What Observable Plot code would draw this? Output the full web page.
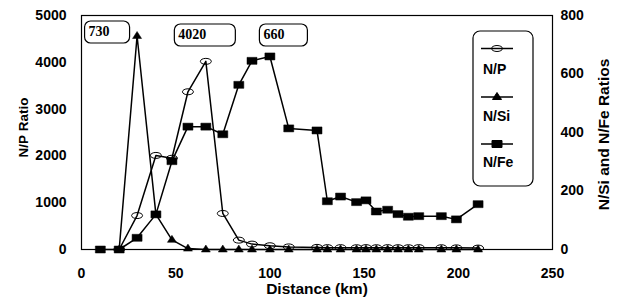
<!DOCTYPE html>
<html>
<head>
<meta charset="utf-8">
<script src="https://cdn.jsdelivr.net/npm/d3@7"></script>
<script src="https://cdn.jsdelivr.net/npm/@observablehq/plot@0.6"></script>
<style>
  html, body { margin: 0; padding: 0; background: white; }
</style>
</head>
<body>
<div id="chart"></div>
<script>
// ---- data ----
const distance = [10, 20, 29.5, 39.5, 48, 56.5, 66, 75, 83.5, 90.5, 100, 110, 125, 130.5, 137.5, 146, 151, 156.5, 162.5, 168, 173.5, 179, 191, 199, 210.5];
const npRatio  = [null, 0, 725, 2010, 1950, 3370, 4020, 770, 200, 115, 80, 55, 45, 40, 40, 38, 40, 38, 40, 38, 38, 40, 38, 35, 30];
const nsiRatio = [null, 0, 730, 120, 33, 3, 0, 0, 0, 0, 0, 0, 0, 0, 0, 0, 0, 0, 0, 0, 0, 0, 0, 0, 0];
const nfeRatio = [0, 0, 40, 120, 302, 420, 420, 394, 563, 645, 660, 414, 407, 165, 181, 162, 168, 130, 136, 121, 112, 114, 114, 103, 155];

const xTicks = [0, 50, 100, 150, 200, 250];
const leftTicks = [0, 1000, 2000, 3000, 4000, 5000];
const rightTicks = [0, 200, 400, 600, 800];
const seriesNames = ["N/P", "N/Si", "N/Fe"];

// ---- derived ----
const leftMax = 5000, rightMax = 800;
const k = leftMax / rightMax; // right-axis values mapped onto left scale
const rows = distance.map((d, i) => ({dist: d, np: npRatio[i], nsi: nsiRatio[i], nfe: nfeRatio[i]}));

// custom symbols
const ellipseSym = {draw(ctx) {
  const rx = 5.5, ry = 3, c = 0.5523;
  ctx.moveTo(rx, 0);
  ctx.bezierCurveTo(rx, ry * c, rx * c, ry, 0, ry);
  ctx.bezierCurveTo(-rx * c, ry, -rx, ry * c, -rx, 0);
  ctx.bezierCurveTo(-rx, -ry * c, -rx * c, -ry, 0, -ry);
  ctx.bezierCurveTo(rx * c, -ry, rx, -ry * c, rx, 0);
  ctx.closePath();
}};
const triSym = {draw(ctx) {
  ctx.moveTo(0, -4.5); ctx.lineTo(4.5, 2.5); ctx.lineTo(-4.5, 2.5); ctx.closePath();
}};
const squareSym = {draw(ctx) {
  ctx.moveTo(-5, -3.5); ctx.lineTo(5, -3.5); ctx.lineTo(5, 3.5); ctx.lineTo(-5, 3.5); ctx.closePath();
}};

// annotations: peak value of each series
const peakOf = (arr, scale) => {
  const i = d3.maxIndex(arr, v => v == null ? -Infinity : v);
  return {x: distance[i], label: String(arr[i]), yv: arr[i] * scale};
};
const peaks = [peakOf(nsiRatio, k), peakOf(npRatio, 1), peakOf(nfeRatio, k)];
const annotLayout = [{dx: -52, w: 45, top: 6}, {dx: -31, w: 61, top: 9}, {dx: -10, w: 48, top: 9}];

function findArgs(args) {
  const scales = args.find(a => a && typeof a.x === "function" && typeof a.y === "function");
  const dims = args.find(a => a && typeof a === "object" && "marginLeft" in a && "width" in a);
  return {scales, dims};
}

function annotationMark(...args) {
  const {scales, dims} = findArgs(args);
  const g = d3.create("svg:g");
  peaks.forEach((p, i) => {
    const L = annotLayout[i];
    const x0 = scales.x(p.x) + L.dx;
    const y0 = dims.marginTop + L.top;
    g.append("rect").attr("x", x0).attr("y", y0).attr("width", L.w).attr("height", 22)
      .attr("rx", 6).attr("ry", 6).attr("fill", "white").attr("stroke", "black").attr("stroke-width", 1.2);
    g.append("text").attr("x", x0 + 4).attr("y", y0 + 15)
      .attr("font-family", "'Liberation Serif', 'Times New Roman', serif")
      .attr("font-weight", "bold").attr("font-size", 14).attr("text-anchor", "start")
      .attr("fill", "black").text(p.label);
  });
  return g.node();
}

function legendMark(...args) {
  const {dims} = findArgs(args);
  const right = dims.width - dims.marginRight;
  const top = dims.marginTop;
  const g = d3.create("svg:g");
  const bx = right - 79, bw = 60;
  g.append("rect").attr("x", bx).attr("y", top + 16).attr("width", bw).attr("height", 155)
    .attr("rx", 7).attr("ry", 7).attr("fill", "white").attr("stroke", "black").attr("stroke-width", 1.2);
  const syms = [ellipseSym, triSym, squareSym];
  const fills = ["none", "black", "black"];
  const lineY = [33.5, 82, 129];
  const textY = [54, 101.5, 147.5];
  seriesNames.forEach((name, i) => {
    const ly = top + lineY[i];
    g.append("line").attr("x1", bx + 8).attr("x2", bx + 40).attr("y1", ly).attr("y2", ly)
      .attr("stroke", "black").attr("stroke-width", 1.5);
    g.append("path").attr("d", d3.symbol(syms[i])())
      .attr("transform", `translate(${bx + 24},${ly})`)
      .attr("fill", fills[i]).attr("stroke", "black").attr("stroke-width", 1);
    g.append("text").attr("x", bx + 10).attr("y", top + textY[i]).attr("dy", "0.35em")
      .attr("text-anchor", "start").attr("font-size", 14).attr("font-weight", "bold")
      .attr("fill", "black").text(name);
  });
  return g.node();
}

const lineOpts = {stroke: "black", strokeWidth: 1.5};

const chart = Plot.plot({
  width: 620,
  height: 304,
  marginLeft: 81,
  marginRight: 68,
  marginTop: 15,
  marginBottom: 55,
  style: {fontFamily: "Arial, 'Liberation Sans', sans-serif", fontSize: "14px", fontWeight: "bold", color: "black", background: "white"},
  x: {domain: [0, 250]},
  y: {domain: [0, leftMax]},
  marks: [
    Plot.frame({stroke: "black", strokeWidth: 1.2}),
    Plot.axisX({ticks: xTicks, tickSize: 0, tickPadding: 19, label: null, tickFormat: d => String(d)}),
    Plot.axisY({ticks: leftTicks, tickSize: 0, tickPadding: 15, label: null, tickFormat: d => String(d)}),
    Plot.axisY({anchor: "right", ticks: rightTicks.map(v => v * k), tickFormat: v => String(Math.round(v / k)), tickSize: 0, tickPadding: 8, label: null}),
    Plot.text(["Distance (km)"], {text: d => d, frameAnchor: "bottom", textAnchor: "middle", dy: 44, fontSize: 15.5, fontWeight: "bold"}),
    Plot.text(["N/P Ratio"], {text: d => d, frameAnchor: "left", textAnchor: "middle", rotate: -90, dx: -57.5, dy: -5, fontSize: 13.5, fontWeight: "bold"}),
    Plot.text(["N/Si and N/Fe Ratios"], {text: d => d, frameAnchor: "right", textAnchor: "middle", rotate: -90, dx: 52, dy: 2, fontSize: 15.5, fontWeight: "bold"}),
    Plot.line(rows, {x: "dist", y: d => d.np == null ? NaN : d.np, ...lineOpts}),
    Plot.line(rows, {x: "dist", y: d => d.nsi == null ? NaN : d.nsi * k, ...lineOpts}),
    Plot.line(rows, {x: "dist", y: d => d.nfe == null ? NaN : d.nfe * k, ...lineOpts}),
    Plot.dot(rows, {x: "dist", y: d => d.np == null ? NaN : d.np, symbol: ellipseSym, fill: "none", stroke: "black", strokeWidth: 1}),
    Plot.dot(rows, {x: "dist", y: d => d.nsi == null ? NaN : d.nsi * k, symbol: triSym, fill: "black", stroke: "black", strokeWidth: 0.5}),
    Plot.dot(rows, {x: "dist", y: d => d.nfe == null ? NaN : d.nfe * k, symbol: squareSym, fill: "black", stroke: "black", strokeWidth: 0.5}),
    annotationMark,
    legendMark
  ]
});
document.getElementById("chart").appendChild(chart);
</script>
</body>
</html>
